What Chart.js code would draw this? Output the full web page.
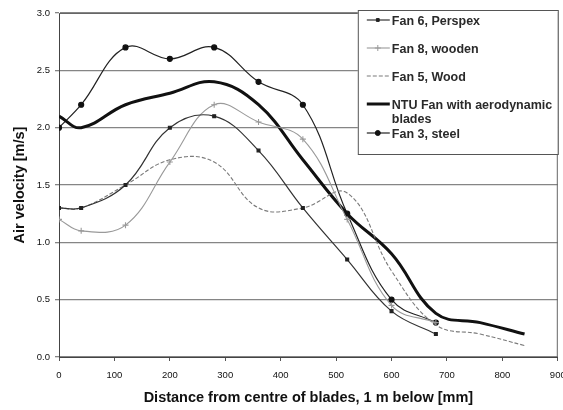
<!DOCTYPE html>
<html>
<head>
<meta charset="utf-8">
<script src="https://cdn.jsdelivr.net/npm/chart.js@4.4.1/dist/chart.umd.min.js"></script>
<style>
  html, body { margin: 0; padding: 0; background: #fff; }
</style>
</head>
<body>
<canvas id="fanChart" width="563" height="410"></canvas>
<script>
// Measuring positions below the blades [mm]
const distances = [0, 40, 120, 200, 280, 360, 440, 520, 600, 680, 760, 840];

// Air velocity [m/s] for each fan
const fan6Perspex = [1.3, 1.3, 1.5, 2.0, 2.1, 1.8, 1.3, 0.85, 0.4, 0.2];
const fan8Wooden  = [1.2, 1.1, 1.15, 1.7, 2.2, 2.05, 1.9, 1.2, 0.45, 0.3];
const fan5Wood    = [1.3, 1.3, 1.5, 1.72, 1.7, 1.3, 1.3, 1.43, 0.75, 0.28, 0.2, 0.1];
const ntuFan      = [2.1, 2.0, 2.2, 2.3, 2.4, 2.2, 1.72, 1.25, 0.9, 0.38, 0.3, 0.2];
const fan3Steel   = [2.0, 2.2, 2.7, 2.6, 2.7, 2.4, 2.2, 1.25, 0.5, 0.3];

const yTicks = [0, 0.5, 1.0, 1.5, 2.0, 2.5, 3.0];
const xTicks = [0, 100, 200, 300, 400, 500, 600, 700, 800, 900];

const toPoints = vals => vals.map((v, i) => ({ x: distances[i], y: v }));

const FONT = 'Arial, "Liberation Sans", sans-serif';

// Boxed legend sitting in the top right corner of the plot
const legendBox = {
  id: 'legendBox',
  afterDraw(chart) {
    const { ctx, chartArea } = chart;
    const w = 200, h = 144;
    const left = chartArea.right - w;
    const top = chartArea.top - 3;
    ctx.save();
    ctx.fillStyle = '#fff';
    ctx.fillRect(left, top, w, h);
    ctx.strokeStyle = '#555';
    ctx.lineWidth = 1;
    ctx.strokeRect(left + 0.5, top + 0.5, w, h);

    const rows = [12, 40, 68, 96, 125];
    ctx.font = 'bold 12.5px ' + FONT;
    ctx.textBaseline = 'middle';
    chart.data.datasets.forEach((ds, i) => {
      const ty = top + rows[i];
      const ly = ty - 2;
      ctx.strokeStyle = ds.borderColor;
      ctx.lineWidth = ds.borderWidth;
      ctx.setLineDash(ds.borderDash || []);
      ctx.beginPath();
      ctx.moveTo(left + 9, ly);
      ctx.lineTo(left + 32, ly);
      ctx.stroke();
      ctx.setLineDash([]);
      if (ds.pointRadius > 0) {
        ctx.fillStyle = ds.pointBackgroundColor;
        ctx.strokeStyle = ds.pointBorderColor;
        ctx.lineWidth = 1;
        Chart.helpers.drawPoint(ctx, {
          pointStyle: ds.pointStyle, radius: ds.pointRadius, rotation: 0, borderWidth: 1
        }, left + 20, ly);
      }
      ctx.fillStyle = '#2a2a2a';
      const lines = [].concat(ds.legendText || ds.label);
      lines.forEach((t, k) => ctx.fillText(t, left + 34, ty + k * 14));
    });
    ctx.restore();
  }
};

// Frame round the plot area
const plotFrame = {
  id: 'plotFrame',
  beforeDatasetsDraw(chart) {
    const { ctx, chartArea: a } = chart;
    ctx.save();
    ctx.strokeStyle = '#666';
    ctx.lineWidth = 1;
    ctx.beginPath();
    ctx.moveTo(a.left, a.top + 0.5);
    ctx.lineTo(a.right - 0.5, a.top + 0.5);
    ctx.lineTo(a.right - 0.5, a.bottom);
    ctx.stroke();
    ctx.restore();
  }
};

new Chart(document.getElementById('fanChart'), {
  type: 'line',
  data: {
    datasets: [
      {
        label: 'Fan 6, Perspex',
        data: toPoints(fan6Perspex),
        borderColor: '#333', borderWidth: 1.2,
        pointStyle: 'rect', pointRadius: 2,
        pointBackgroundColor: '#222', pointBorderColor: '#222',
        tension: 0.4
      },
      {
        label: 'Fan 8, wooden',
        data: toPoints(fan8Wooden),
        borderColor: '#9a9a9a', borderWidth: 1.1,
        pointStyle: 'cross', pointRadius: 3,
        pointBackgroundColor: '#9a9a9a', pointBorderColor: '#9a9a9a',
        tension: 0.4
      },
      {
        label: 'Fan 5, Wood',
        data: toPoints(fan5Wood),
        borderColor: '#7a7a7a', borderWidth: 1.1, borderDash: [4, 2],
        pointStyle: 'line', pointRadius: 0,
        pointBackgroundColor: '#7a7a7a', pointBorderColor: '#7a7a7a',
        tension: 0.4
      },
      {
        label: 'NTU Fan with aerodynamic blades',
        legendText: ['NTU Fan with aerodynamic', 'blades'],
        data: toPoints(ntuFan),
        borderColor: '#111', borderWidth: 3,
        pointRadius: 0,
        tension: 0.4
      },
      {
        label: 'Fan 3, steel',
        data: toPoints(fan3Steel),
        borderColor: '#222', borderWidth: 1.2,
        pointStyle: 'circle', pointRadius: 2.5,
        pointBackgroundColor: '#111', pointBorderColor: '#111',
        tension: 0.4
      }
    ]
  },
  options: {
    responsive: false,
    animation: false,
    layout: { padding: { top: 13, right: 5, left: 0, bottom: 0 } },
    plugins: {
      legend: { display: false },
      tooltip: { enabled: false }
    },
    scales: {
      x: {
        type: 'linear',
        min: 0, max: 900,
        afterBuildTicks: s => { s.ticks = xTicks.map(v => ({ value: v })); },
        afterFit: s => { s.height = 53; s.paddingLeft = 0; s.paddingRight = 0; },
        ticks: {
          color: '#111', padding: 9, maxRotation: 0, autoSkip: false,
          font: { family: FONT, size: 9.5 }
        },
        grid: { drawOnChartArea: false, drawTicks: true, tickLength: 4, color: '#555' },
        border: { color: '#444' },
        title: {
          display: true,
          text: 'Distance from centre of blades, 1 m below [mm]',
          color: '#111',
          padding: { top: 0, bottom: 3 },
          font: { family: FONT, size: 14.5, weight: 'bold' }
        }
      },
      y: {
        min: 0, max: 3,
        afterBuildTicks: s => { s.ticks = yTicks.map(v => ({ value: v })); },
        afterFit: s => { s.width = 59; s.paddingTop = 0; s.paddingBottom = 0; },
        ticks: {
          color: '#111', padding: 5,
          font: { family: FONT, size: 9.5 },
          callback: v => v.toFixed(1)
        },
        grid: { color: '#858585', lineWidth: 1.3, tickLength: 4 },
        border: { color: '#444' },
        title: {
          display: true,
          text: 'Air velocity [m/s]',
          color: '#111',
          padding: { top: 11, bottom: 0 },
          font: { family: FONT, size: 14.5, weight: 'bold' }
        }
      }
    }
  },
  plugins: [plotFrame, legendBox]
});
</script>
</body>
</html>
